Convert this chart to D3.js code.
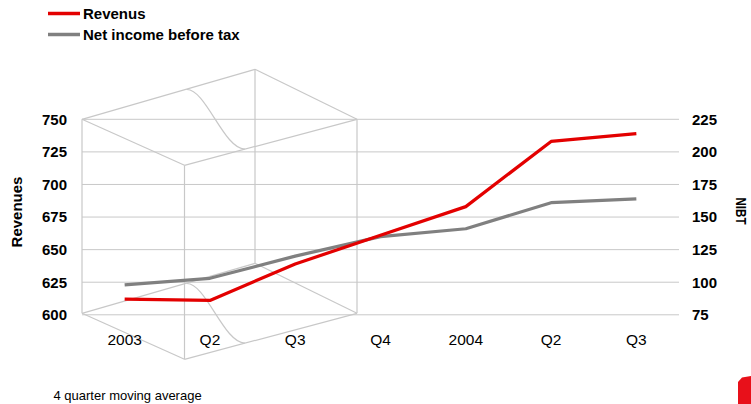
<!DOCTYPE html>
<html>
<head>
<meta charset="utf-8">
<script src="https://cdn.jsdelivr.net/npm/d3@7"></script>
<style>
  html, body { margin: 0; padding: 0; background: #fff; }
  svg { display: block; font-family: "Liberation Sans", Arial, sans-serif; }
</style>
</head>
<body>
<svg id="chart" width="751" height="404"></svg>
<script>
// Quarterly figures (4 quarter moving average)
const categories = ["2003", "Q2", "Q3", "Q4", "2004", "Q2", "Q3"];
const revenues   = [612, 611, 639, 661, 683, 733, 739];
const nibt       = [98, 103, 120, 135, 141, 161, 164];
const leftTicks  = [600, 625, 650, 675, 700, 725, 750];
const rightTicks = [75, 100, 125, 150, 175, 200, 225];
const seriesNames = ["Revenus", "Net income before tax"];
const seriesColors = ["#e30000", "#808080"];

const svg = d3.select("#chart");
const plot = { left: 82, right: 679, top: 119.3, bottom: 314.8 };
const gridColor = "#c8c8c8";

const x = d3.scaleBand()
  .domain(d3.range(categories.length))
  .range([plot.left, plot.right]);
const yL = d3.scaleLinear().domain([600, 750]).range([plot.bottom, plot.top]);
const yR = d3.scaleLinear().domain([75, 225]).range([plot.bottom, plot.top]);

// horizontal gridlines
svg.append("g").selectAll("line").data(leftTicks).join("line")
  .attr("x1", plot.left).attr("x2", plot.right)
  .attr("y1", d => yL(d)).attr("y2", d => yL(d))
  .attr("stroke", gridColor).attr("stroke-width", 1);

// wireframe box in the background of the first quarters
const box = svg.append("g").attr("fill", "none").attr("stroke", gridColor).attr("stroke-width", 1.2);
const A = [plot.left, plot.top], B = [255, 69.3], C = [357, plot.top], D = [184.5, 165.3];
const h = 194;
const drop = p => [p[0], p[1] + h];
const seg = (p, q) => box.append("line").attr("x1", p[0]).attr("y1", p[1]).attr("x2", q[0]).attr("y2", q[1]);
[[A, B], [B, C], [C, D], [D, A]].forEach(([p, q]) => { seg(p, q); seg(drop(p), drop(q)); });
[A, B, C, D].forEach(p => seg(p, drop(p)));
const fold = (dy) => {
  const p = d3.path();
  p.moveTo(186.7, 89.5 + dy);
  p.bezierCurveTo(206, 89 + dy, 224, 149.5 + dy, 245, 149 + dy);
  box.append("path").attr("d", p.toString());
};
fold(0);
fold(h);

// axes
const fontTick = "15px";
const left = svg.append("g").attr("transform", `translate(${plot.left},0)`)
  .call(d3.axisLeft(yL).tickValues(leftTicks).tickSize(0).tickPadding(15));
const right = svg.append("g").attr("transform", `translate(${plot.right},0)`)
  .call(d3.axisRight(yR).tickValues(rightTicks).tickSize(0).tickPadding(13));
[left, right].forEach(g => {
  g.select(".domain").remove();
  g.selectAll("text").attr("font-size", fontTick).attr("font-weight", "bold")
    .attr("fill", "#000").attr("font-family", "Liberation Sans, Arial, sans-serif");
});
const bottom = svg.append("g").attr("transform", `translate(0,${plot.bottom})`)
  .call(d3.axisBottom(x).tickFormat(i => categories[i]).tickSize(0).tickPadding(19));
bottom.select(".domain").remove();
bottom.selectAll("text").attr("font-size", "15.5px").attr("fill", "#000")
  .attr("font-family", "Liberation Sans, Arial, sans-serif");

// axis titles
svg.append("text").attr("transform", "translate(22,212) rotate(-90)")
  .attr("text-anchor", "middle").attr("font-size", "15px").attr("font-weight", "bold")
  .text("Revenues");
svg.append("text").attr("transform", "translate(736,211) rotate(90)")
  .attr("text-anchor", "middle").attr("font-size", "15px").attr("font-weight", "bold")
  .attr("textLength", 27).attr("lengthAdjust", "spacingAndGlyphs")
  .text("NIBT");

// series lines
const cx = i => x(i) + x.bandwidth() / 2;
const lineL = d3.line().x((d, i) => cx(i)).y(d => yL(d));
const lineR = d3.line().x((d, i) => cx(i)).y(d => yR(d));
svg.append("path").attr("d", lineR(nibt)).attr("fill", "none")
  .attr("stroke", seriesColors[1]).attr("stroke-width", 3.2).attr("stroke-linejoin", "round");
svg.append("path").attr("d", lineL(revenues)).attr("fill", "none")
  .attr("stroke", seriesColors[0]).attr("stroke-width", 3.2).attr("stroke-linejoin", "round");

// legend
const legend = svg.append("g").selectAll("g").data(seriesNames).join("g")
  .attr("transform", (d, i) => `translate(48,${13.5 + i * 21})`);
legend.append("line").attr("x1", 0).attr("x2", 32).attr("y1", 0).attr("y2", 0)
  .attr("stroke", (d, i) => seriesColors[i]).attr("stroke-width", 3.5);
legend.append("text").attr("x", 35).attr("y", 5.3)
  .attr("font-size", "15px").attr("font-weight", "bold").text(d => d);

// footnote
svg.append("text").attr("x", 53.5).attr("y", 400).attr("font-size", "13px").text("4 quarter moving average");

// corner accent
svg.append("path").attr("d", "M738,382 L742,377.5 L751,376 L751,404 L738,404 Z").attr("fill", "#e8101a");
</script>
</body>
</html>
